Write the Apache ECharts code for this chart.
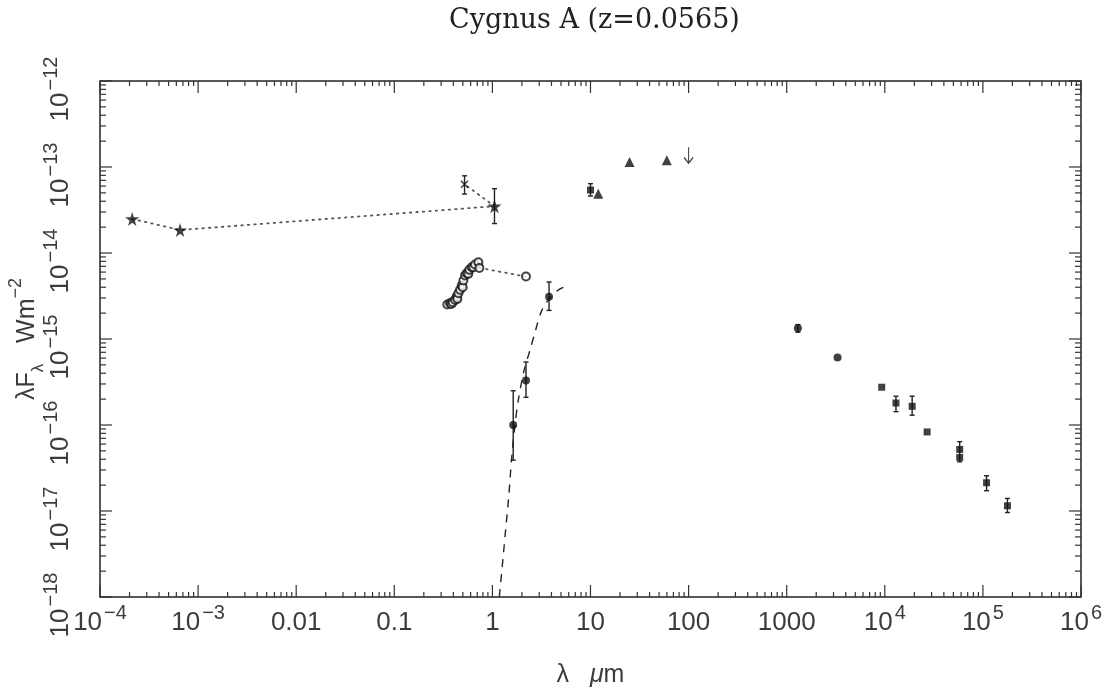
<!DOCTYPE html>
<html><head><meta charset="utf-8">
<script src="https://cdn.jsdelivr.net/npm/echarts@6/dist/echarts.min.js"></script>
<style>html,body{margin:0;padding:0;background:#fff}#c{width:1118px;height:697px}</style>
</head><body><div id="c"></div>
<script>
// ---------- data (wavelength in micron, lambda F_lambda in W m^-2) ----------
const xTickLabels = ['10^-4','10^-3','0.01','0.1','1','10','100','1000','10^4','10^5','10^6'];
const yTickLabels = ['10^-18','10^-17','10^-16','10^-15','10^-14','10^-13','10^-12'];

const starLam  = [2.13e-4, 6.55e-4, 1.05];
const starFlux = [2.49e-14, 1.85e-14, 3.5e-14];

const crossLam  = [0.52];
const crossFlux = [6.3e-14];

const openLam  = [0.347,0.370,0.382,0.394,0.416,0.432,0.439,0.450,0.468,0.487,0.498,0.506,0.526,0.547,0.568,0.582,0.615,0.639,0.665,0.719,0.736,2.2];
const openFlux = [2.52e-15,2.61e-15,2.56e-15,2.68e-15,2.85e-15,3.12e-15,2.93e-15,3.41e-15,3.73e-15,4.19e-15,4.0e-15,4.79e-15,5.47e-15,5.82e-15,5.72e-15,6.37e-15,6.83e-15,6.83e-15,7.34e-15,7.80e-15,6.71e-15,5.32e-15];

const dotLam  = [1.63, 2.2, 3.78, 1300, 3300];
const dotFlux = [1.0e-16, 3.3e-16, 3.1e-15, 1.33e-15, 6.1e-16];

const sqLam  = [10, 9300, 13000, 19000, 27000, 58000, 58000, 109000, 178000];
const sqFlux = [5.4e-14, 2.75e-16, 1.8e-16, 1.65e-16, 8.3e-17, 5.2e-17, 4.2e-17, 2.13e-17, 1.15e-17];

const triLam  = [12, 25, 60];
const triFlux = [4.9e-14, 1.14e-13, 1.2e-13];

const limLam  = [100];
const limFlux = [1.7e-13];

const errLam  = [0.52, 1.05, 10, 1.63, 2.2, 3.78, 1300, 13000, 19000, 58000, 109000, 178000];
const errLow  = [4.85e-14, 2.2e-14, 4.6e-14, 3.9e-17, 2.1e-16, 2.15e-15, 1.2e-15, 1.43e-16, 1.3e-16, 3.73e-17, 1.72e-17, 9.6e-18];
const errHigh = [7.9e-14, 5.6e-14, 6.4e-14, 2.5e-16, 5.4e-16, 4.6e-15, 1.47e-15, 2.16e-16, 2.16e-16, 6.4e-17, 2.57e-17, 1.4e-17];

const modelLam  = [1.175,1.259,1.349,1.462,1.574,1.698,1.837,2.089,2.415,2.754,3.184,3.981,5.012,6.166];
const modelFlux = [1.0e-18,2.24e-18,5.25e-18,1.41e-17,4.17e-17,1.0e-16,1.95e-16,4.17e-16,7.41e-16,1.26e-15,2.14e-15,3.16e-15,3.89e-15,4.17e-15];

// ---------- helpers ----------
const zip = (a, b) => a.map((v, i) => [v, b[i]]);
const INK = '#222';
const TXT = '#3c3c3c';
function fmt(label, pre) {
  const m = label.match(/^10\^(.+)$/);
  if (m) return '{' + pre + 'b|10}{' + pre + 's|' + m[1].replace('-', '\u2212') + '}';
  return '{' + pre + 'b|' + label + '}';
}
const FONT = 'Liberation Sans';
const rich = {
  xb: {fontFamily: FONT, fontSize: 26, color: TXT, lineHeight: 40},
  xs: {fontFamily: FONT, fontSize: 20, color: TXT, lineHeight: 27, verticalAlign: 'top', padding: [0, 0, 0, 2]},
  yb: {fontFamily: FONT, fontSize: 26, color: TXT, lineHeight: 40},
  ys: {fontFamily: FONT, fontSize: 20, color: TXT, lineHeight: 28, verticalAlign: 'top', padding: [0, 16, 0, 2]}
};

const starPath = 'path://M50,0 L61,35 L98,35 L68,57 L79,91 L50,70 L21,91 L32,57 L2,35 L39,35 Z';
const crossPath = 'path://M0,0 L10,10 M10,0 L0,10';
const arrowPath = 'path://M5,0 L5,20 M0,13 L5,20 L10,13';

const chart = echarts.init(document.getElementById('c'), null, {renderer: 'canvas'});
chart.setOption({
  animation: false,
  backgroundColor: '#fff',
  title: {
    text: 'Cygnus A (z=0.0565)', left: 444, top: 2,
    textStyle: {fontFamily: 'DejaVu Serif', fontSize: 27, fontWeight: 'normal', color: '#222'}
  },
  grid: {left: 100, right: 37, top: 81, bottom: 100, containLabel: false, outerBoundsMode: 'none',
         show: true, borderColor: INK, borderWidth: 1.5, backgroundColor: 'transparent'},
  xAxis: {
    type: 'log', logBase: 10, min: 1e-4, max: 1e6, splitNumber: 10,
    axisLine: {show: false}, axisTick: {show: false}, splitLine: {show: false}, minorTick: {show: false},
    axisLabel: {margin: 6, showMinLabel: true, showMaxLabel: true, hideOverlap: false,
                formatter: v => fmt(xTickLabels[Math.round(Math.log10(v)) + 4], 'x'), rich: rich},
    name: '{n|\u03bb}{n|   }{ni|\u03bc}{n|m}', nameLocation: 'middle', nameGap: 58, nameMoveOverlap: false,
    nameTextStyle: {rich: {n: {fontFamily: FONT, fontSize: 25, color: TXT, lineHeight: 40}, ni: {fontFamily: FONT, fontSize: 25, fontStyle: 'italic', color: TXT, lineHeight: 40}}}
  },
  yAxis: {
    type: 'log', logBase: 10, min: 1e-18, max: 1e-12, splitNumber: 6,
    axisLine: {show: false}, axisTick: {show: false}, splitLine: {show: false}, minorTick: {show: false},
    axisLabel: {rotate: 90, margin: 19, showMinLabel: true, showMaxLabel: true, hideOverlap: false,
                formatter: v => fmt(yTickLabels[Math.round(Math.log10(v)) + 18], 'y'), rich: rich},
    name: '{n|\u03bbF}{sub|\u03bb}{n|   Wm}{sup|\u22122}', nameLocation: 'middle', nameRotate: 90, nameGap: 53, nameMoveOverlap: false,
    nameTextStyle: {rich: {
      n: {fontFamily: FONT, fontSize: 25, color: TXT, lineHeight: 40},
      sub: {fontFamily: FONT, fontSize: 17, color: TXT, lineHeight: 17, verticalAlign: 'bottom'},
      sup: {fontFamily: FONT, fontSize: 18, color: TXT, lineHeight: 17, verticalAlign: 'top'}
    }}
  },
  series: [
    { // frame ticks (major & minor, all four sides)
      type: 'custom', silent: true, clip: false, z: 1,
      data: [[1, 1e-15]],
      renderItem: function (params, api) {
        const ch = [];
        const st = {stroke: '#333', lineWidth: 1.2};
        for (let e = -4; e <= 6; e++) {
          for (let m = 1; m <= 9; m++) {
            if (e === 6 && m > 1) break;
            const v = m * Math.pow(10, e);
            const L = m === 1 ? 12 : 5;
            const b = api.coord([v, 1e-18]), t = api.coord([v, 1e-12]);
            ch.push({type: 'line', shape: {x1: b[0], y1: b[1], x2: b[0], y2: b[1] - L}, style: st});
            ch.push({type: 'line', shape: {x1: t[0], y1: t[1], x2: t[0], y2: t[1] + L}, style: st});
          }
        }
        for (let e = -18; e <= -12; e++) {
          for (let m = 1; m <= 9; m++) {
            if (e === -12 && m > 1) break;
            const v = m * Math.pow(10, e);
            const L = m === 1 ? 12 : 6;
            const l = api.coord([1e-4, v]), r = api.coord([1e6, v]);
            ch.push({type: 'line', shape: {x1: l[0], y1: l[1], x2: l[0] + L, y2: l[1]}, style: st});
            ch.push({type: 'line', shape: {x1: r[0], y1: r[1], x2: r[0] - L, y2: r[1]}, style: st});
          }
        }
        return {type: 'group', children: ch};
      }
    },
    { // model (dashed)
      type: 'line', data: zip(modelLam, modelFlux), showSymbol: false, symbol: 'none', smooth: 0.3,
      lineStyle: {color: INK, width: 1.4, type: [8, 7]}, z: 2
    },
    { // dotted connection: stars + cross
      type: 'line', data: zip(starLam.concat(crossLam), starFlux.concat(crossFlux)), symbol: 'none',
      lineStyle: {color: '#555', width: 1.8, type: [1.5, 5], cap: 'round'}, z: 2
    },
    { // dotted connection: open circles
      type: 'line', data: zip(openLam, openFlux), symbol: 'none',
      lineStyle: {color: '#555', width: 1.8, type: [1.5, 5], cap: 'round'}, z: 2
    },
    { // error bars
      type: 'custom', z: 3, clip: false,
      data: errLam.map((x, i) => [x, errLow[i], errHigh[i]]),
      encode: {x: 0, y: [1, 2]},
      renderItem: function (params, api) {
        const x = api.value(0), lo = api.value(1), hi = api.value(2);
        const p1 = api.coord([x, lo]), p2 = api.coord([x, hi]);
        const w = 2.5, st = {stroke: INK, lineWidth: 1.4};
        return {type: 'group', children: [
          {type: 'line', shape: {x1: p1[0], y1: p1[1], x2: p2[0], y2: p2[1]}, style: st},
          {type: 'line', shape: {x1: p1[0] - w, y1: p1[1], x2: p1[0] + w, y2: p1[1]}, style: st},
          {type: 'line', shape: {x1: p2[0] - w, y1: p2[1], x2: p2[0] + w, y2: p2[1]}, style: st}
        ]};
      }
    },
    {type: 'scatter', data: zip(starLam, starFlux), symbol: starPath, symbolSize: 14, itemStyle: {color: '#111'}, z: 4},
    {type: 'scatter', data: zip(crossLam, crossFlux), symbol: crossPath, symbolSize: 7, itemStyle: {color: 'none', borderColor: '#111', borderWidth: 1.6}, z: 4},
    {type: 'scatter', data: zip(openLam, openFlux), symbol: 'emptyCircle', symbolSize: 8, itemStyle: {color: '#111', borderColor: '#111', borderWidth: 1.3}, z: 4},
    {type: 'scatter', data: zip(dotLam, dotFlux), symbol: 'circle', symbolSize: 8, itemStyle: {color: '#111'}, z: 4},
    {type: 'scatter', data: zip(sqLam, sqFlux), symbol: 'rect', symbolSize: 7, itemStyle: {color: '#111'}, z: 4},
    {type: 'scatter', data: zip(triLam, triFlux), symbol: 'triangle', symbolSize: 10, itemStyle: {color: '#111'}, z: 4},
    {type: 'scatter', data: zip(limLam, limFlux), symbol: arrowPath, symbolSize: [9, 16], symbolOffset: [0, 8], itemStyle: {color: 'none', borderColor: '#111', borderWidth: 1.4}, z: 4}
  ]
});
</script>
</body></html>
